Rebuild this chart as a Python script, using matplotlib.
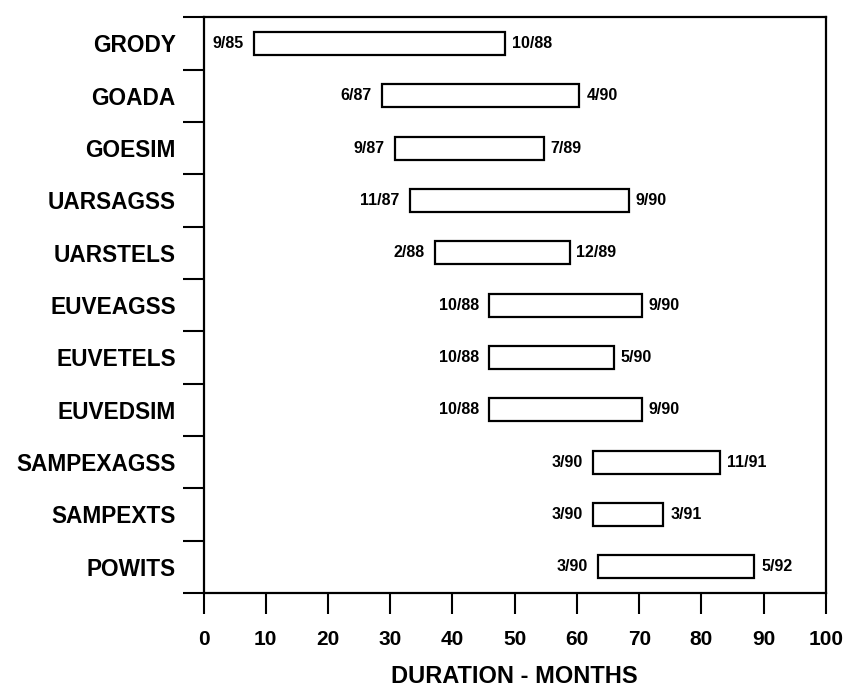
import matplotlib
matplotlib.use('Agg')
import matplotlib.pyplot as plt
import numpy as np

# project schedule (months)
projects = ['GRODY', 'GOADA', 'GOESIM', 'UARSAGSS', 'UARSTELS', 'EUVEAGSS',
            'EUVETELS', 'EUVEDSIM', 'SAMPEXAGSS', 'SAMPEXTS', 'POWITS']
start_month = [8.1, 28.6, 30.7, 33.1, 37.2, 45.9, 45.9, 45.9, 62.5, 62.5, 63.4]
end_month = [48.5, 60.4, 54.7, 68.3, 58.8, 70.4, 65.9, 70.4, 83.0, 73.9, 88.5]
start_labels = ['9/85', '6/87', '9/87', '11/87', '2/88', '10/88', '10/88',
                '10/88', '3/90', '3/90', '3/90']
end_labels = ['10/88', '4/90', '7/89', '9/90', '12/89', '9/90', '5/90',
              '9/90', '11/91', '3/91', '5/92']
x_ticks = [0, 10, 20, 30, 40, 50, 60, 70, 80, 90, 100]

FONT = ['Liberation Sans', 'DejaVu Sans']


def plot_schedule():
    fig = plt.figure(figsize=(8.48, 6.91), dpi=100)
    ax = fig.add_axes([0.240, 0.142, 0.734, 0.833])

    y = np.arange(len(projects)) + 0.5
    widths = np.array(end_month) - np.array(start_month)
    ax.barh(y, widths, left=start_month, height=0.44, color='white',
            edgecolor='black', linewidth=1.6)

    for yi, s, e, sl, el in zip(y, start_month, end_month, start_labels, end_labels):
        ax.text(s - 1.6, yi, sl, ha='right', va='center', fontsize=11.5,
                fontweight='bold', family=FONT)
        ax.text(e + 1.1, yi, el, ha='left', va='center', fontsize=11.5,
                fontweight='bold', family=FONT)

    ax.set_xlim(0, 100)
    ax.set_ylim(len(projects), 0)

    ax.set_xticks(x_ticks)
    ax.set_xticklabels([str(t) for t in x_ticks], fontsize=15,
                       fontweight='bold', family=FONT)
    ax.tick_params(axis='x', direction='out', length=15, width=1.5, pad=12)

    # boundaries as major ticks, names as minor tick labels
    ax.set_yticks(np.arange(len(projects) + 1))
    ax.set_yticklabels([])
    ax.set_yticks(y, minor=True)
    ax.set_yticklabels(projects, minor=True, fontsize=16.3, fontweight='bold',
                       family=FONT)
    ax.tick_params(axis='y', which='major', direction='out', length=15, width=1.5)
    ax.tick_params(axis='y', which='minor', length=0, pad=20)

    ax.set_xlabel('DURATION - MONTHS', fontsize=17, fontweight='bold',
                  family=FONT)
    ax.xaxis.set_label_coords(0.5, -0.125)

    for sp in ax.spines.values():
        sp.set_linewidth(1.6)

    fig.savefig('out.png', dpi=100)


def main():
    plot_schedule()


if __name__ == "__main__":
    main()
